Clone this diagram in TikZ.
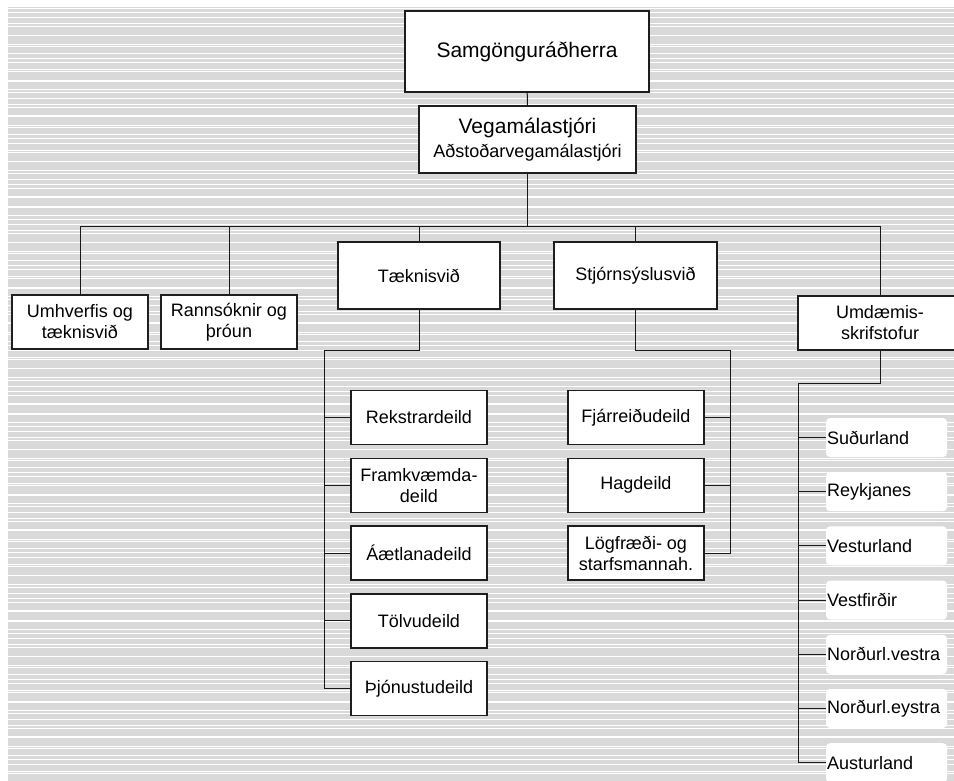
\documentclass[tikz,border=0pt]{standalone}
\usepackage{fontspec}
\setmainfont{Liberation Sans}
\usepackage{tikz}
\usetikzlibrary{calc,positioning}
\definecolor{stripegray}{RGB}{217,217,217}
\definecolor{boxline}{RGB}{30,30,30}
\tikzset{
    font={\fontsize{18pt}{21pt}\selectfont},
    box/.style={
        rectangle,
        draw=boxline, line width=1.3pt,
        fill=white,
        inner sep=0pt,
        align=center,
        minimum width=136pt,
        minimum height=54pt
    },
    region/.style={
        rectangle,
        rounded corners=4pt,
        fill=white,
        inner sep=1pt,
        text width=119pt,
        align=left,
        minimum height=39pt
    },
    conn/.style={draw, line width=1pt, black!90},
    stripe/.style={white, line width=0.9pt},
    bigfont/.style={font={\fontsize{21pt}{25pt}\selectfont}},
}

\begin{document}
\begin{tikzpicture}[x=1pt, y=-1pt]
\useasboundingbox (0,0) rectangle (954,781);
\clip (0,0) rectangle (954,781);
% striped background
\fill[stripegray] (8,7) rectangle (954,781);
\foreach \i in {0,...,85} \draw[stripe] (8,{8+9*\i}) -- (954,{8+9*\i});
\foreach \i in {0,...,66} \draw[stripe] (8,{12+11.5*\i}) -- (954,{12+11.5*\i});

% top
\node[box, bigfont, minimum width=244pt, minimum height=81pt] (Sam) at (527,51.5) {Samgönguráðherra};
\node[box, minimum width=217pt, minimum height=67pt] (Veg) at (527.5,139.5)
    {{\fontsize{21pt}{25pt}\selectfont Vegamálastjóri}\\[3pt]Aðstoðarvegamálastjóri};
\draw[conn] (Sam) -- (Veg);

% divisions
\coordinate (bus) at (527,227);
\node[box] (Umh) at (80,322) {Umhverfis og\\tæknisvið};
\node[box] (Rann) at (229,322) {Rannsóknir og\\þróun};
\node[box, minimum width=162pt, minimum height=67pt] (Tae) at (419,275.5) {Tæknisvið};
\node[box, minimum width=163pt, minimum height=67pt] (Stj) at (635.5,275.5) {Stjórnsýslusvið};
\node[box, minimum width=164pt] (Umd) at (880,323) {Umdæmis-\\skrifstofur};
\draw[conn] (Veg) -- (Veg.south |- bus);
\draw[conn] (Umh.north) -- (Umh.north |- bus) -- (Umd.north |- bus) -- (Umd.north);
\foreach \n in {Rann,Tae,Stj} \draw[conn] (\n.north) -- (\n.north |- bus);

% Taeknisvid
\foreach \name/\txt [count=\k from 0] in {Rek/Rekstrardeild, Fra/{Framkvæmda-\\deild},
        Aae/Áætlanadeild, Tol/Tölvudeild, Thj/Þjónustudeild}
    \node[box] (\name) at (419,{417.5+67.8*\k}) {\txt};
\coordinate (Tc) at (324,350);
\draw[conn] (Tae) -- (Tae.south |- Tc) -- (Tc) |- (Thj.west);
\foreach \name in {Rek,Fra,Aae,Tol} \draw[conn] (\name.west) -- (\name.west -| Tc);

% Stjornsyslusvid
\foreach \name/\txt [count=\k from 0] in {Fja/Fjárreiðudeild, Hag/Hagdeild,
        Log/{Lögfræði- og\\starfsmannah.}}
    \node[box] (\name) at (636,{417.5+67.8*\k}) {\txt};
\coordinate (Sc) at (730,350);
\draw[conn] (Stj) -- (Stj.south |- Sc) -- (Sc) |- (Log.east);
\foreach \name in {Fja,Hag} \draw[conn] (\name.east) -- (\name.east -| Sc);

% Umdaemisskrifstofur
\foreach \name/\txt [count=\k from 0] in {Sud/Suðurland, Rey/Reykjanes, Ves/Vesturland,
        Vfj/Vestfirðir, Nvs/Norðurl.vestra, Ney/Norðurl.eystra, Aus/Austurland}
    \node[region] (\name) at (886.5,{437.5+54.2*\k}) {\txt};
\coordinate (Uc) at (798,383);
\draw[conn] (Umd) -- (Umd.south |- Uc) -- (Uc) |- (Aus.west);
\foreach \name in {Sud,Rey,Ves,Vfj,Nvs,Ney} \draw[conn] (\name.west) -- (\name.west -| Uc);
\end{tikzpicture}
\end{document}
